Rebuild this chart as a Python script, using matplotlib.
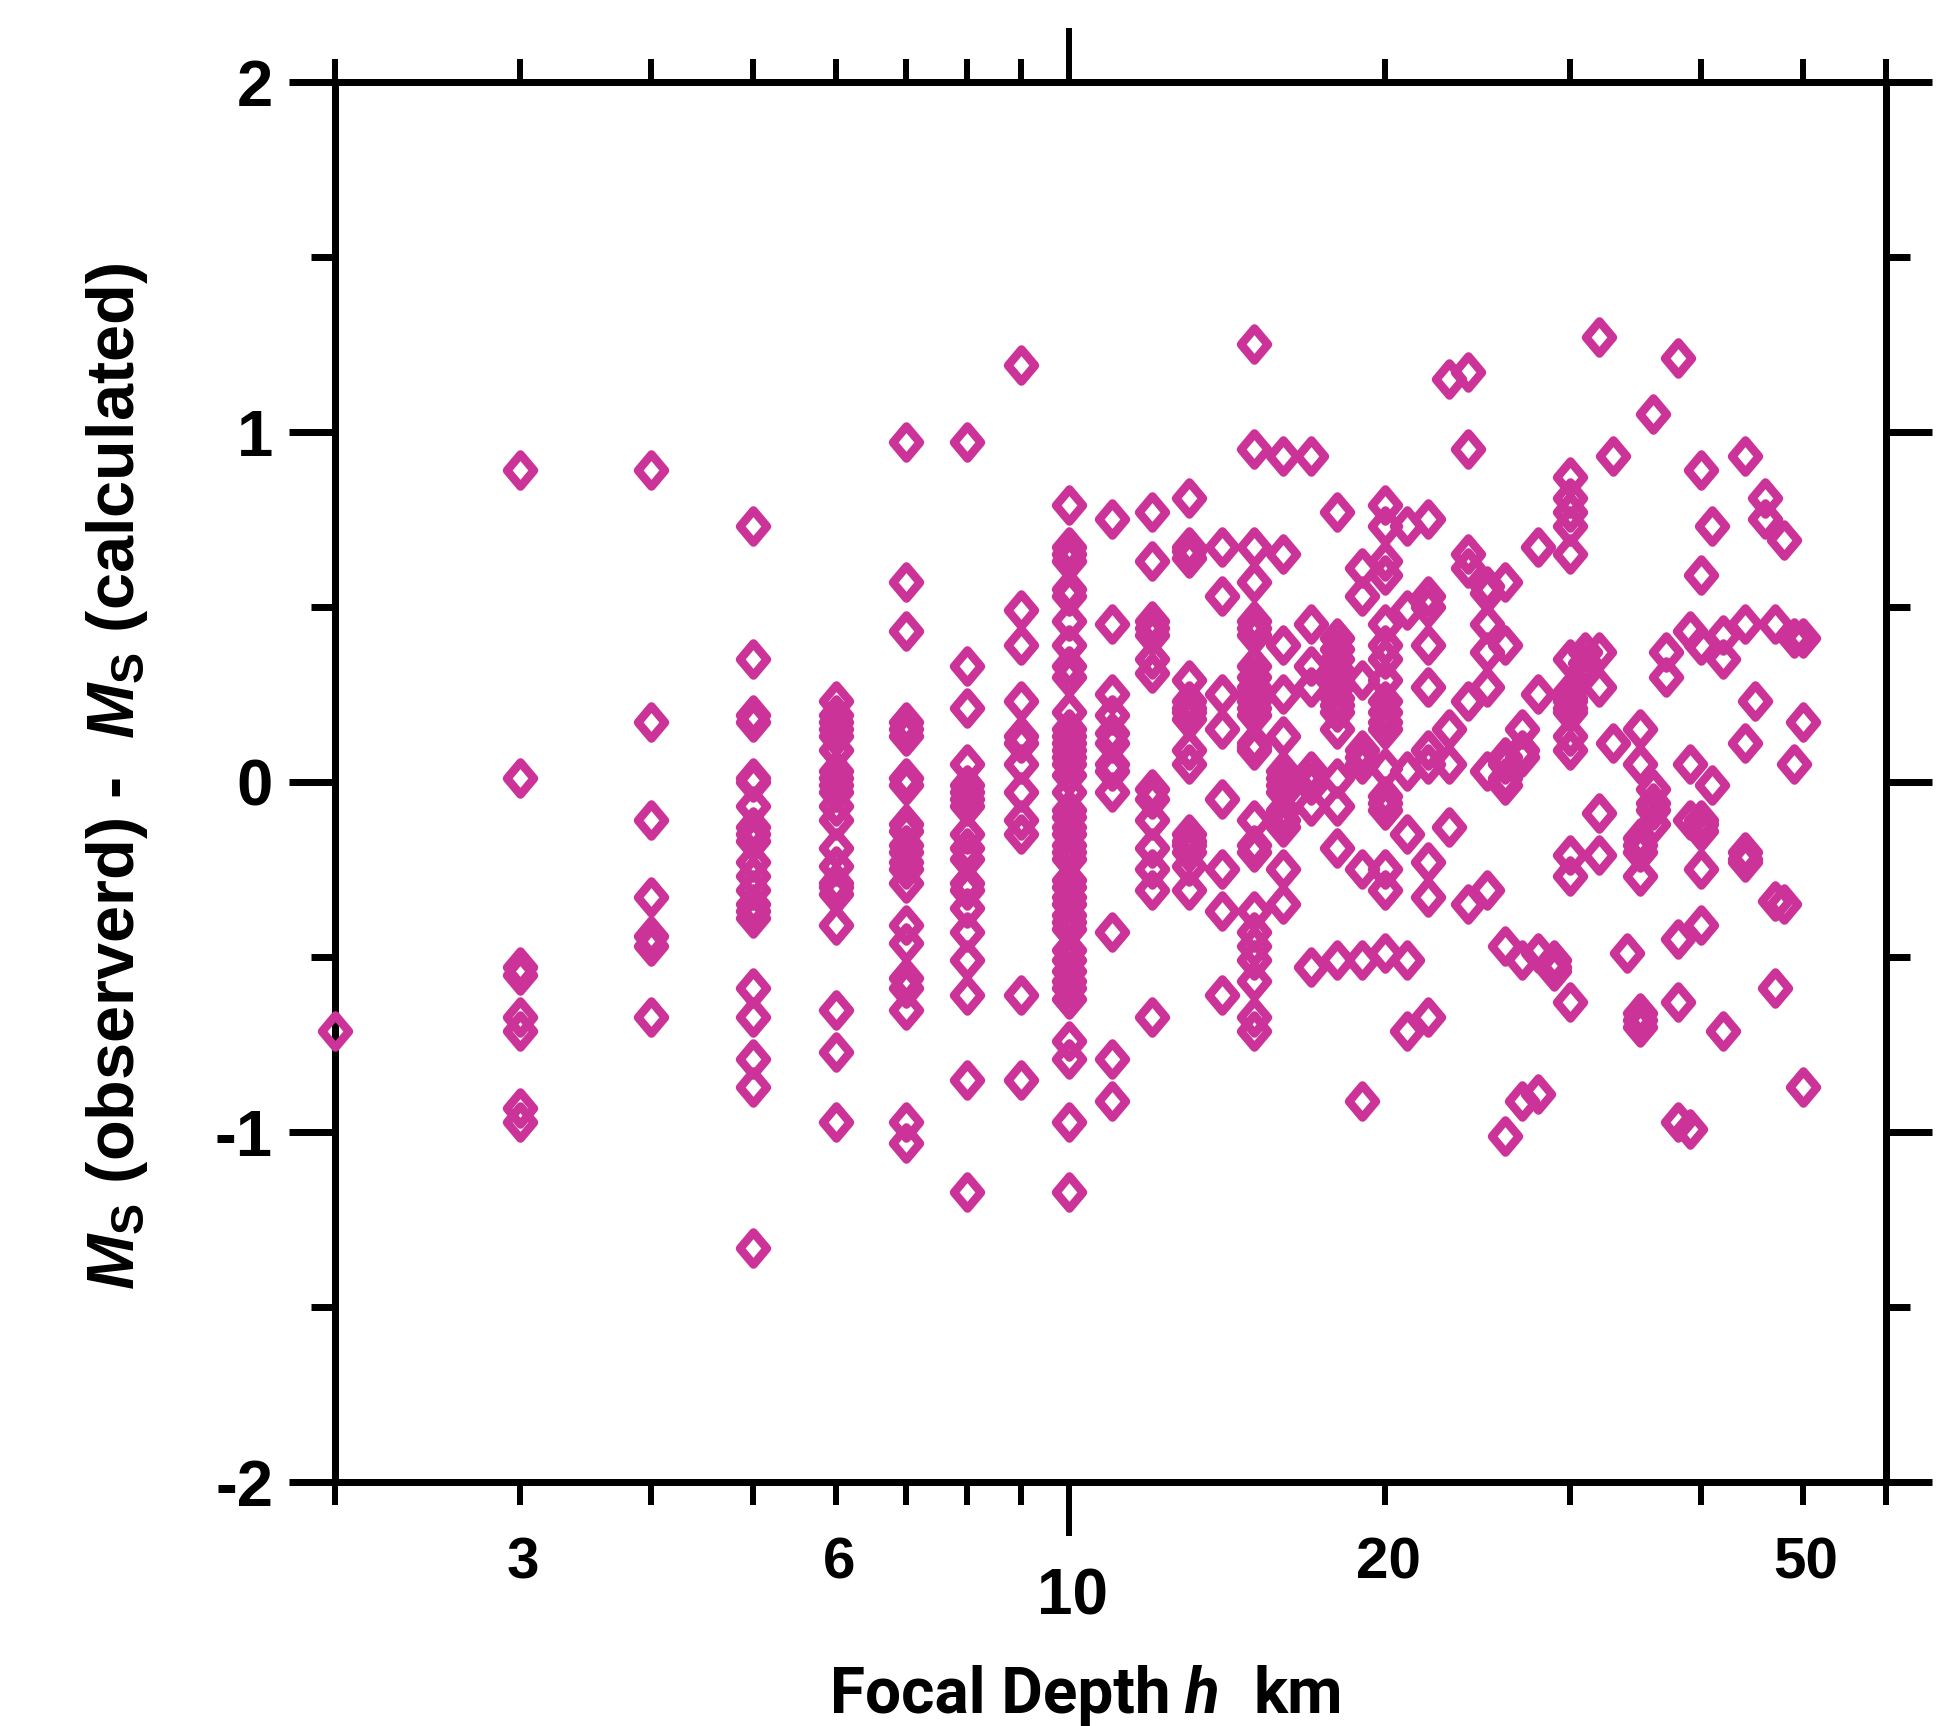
import matplotlib
matplotlib.use("Agg")
import matplotlib.pyplot as plt
from matplotlib.markers import MarkerStyle
from matplotlib.path import Path
from matplotlib.ticker import NullFormatter

# Ms residual, one list for each focal depth (km)
h02 = [-0.71]
h03 = [0.89, 0.01, -0.53, -0.55, -0.67, -0.71, -0.93, -0.97]
h04 = [0.89, 0.17, -0.11, -0.33, -0.44, -0.47, -0.67]
h05 = [0.73, 0.35, 0.19, 0.17, 0.01, 0.0, -0.07, -0.13, -0.15, -0.17, -0.23, -0.27, -0.31, -0.35, -0.37, -0.39,
       -0.59, -0.67, -0.79, -0.87, -1.33]
h06 = [0.23, 0.19, 0.17, 0.15, 0.13, 0.09, 0.03, 0.01, -0.01, -0.03, -0.07, -0.11, -0.19, -0.24, -0.29, -0.30,
       -0.32, -0.41, -0.65, -0.77, -0.97]
h07 = [0.97, 0.57, 0.43, 0.17, 0.15, 0.13, 0.01, -0.01, -0.12, -0.14, -0.18, -0.20, -0.23, -0.25, -0.29, -0.41,
       -0.46, -0.56, -0.59, -0.65, -0.97, -1.03]
h08 = [0.97, 0.33, 0.21, 0.05, -0.01, -0.03, -0.05, -0.07, -0.15, -0.19, -0.22, -0.29, -0.31, -0.36, -0.43,
       -0.51, -0.61, -0.85, -1.17]
h09 = [1.19, 0.49, 0.39, 0.23, 0.13, 0.11, 0.05, -0.03, -0.11, -0.15, -0.61, -0.85]
h10 = [0.79, 0.67, 0.65, 0.63, 0.55, 0.53, 0.46, 0.39, 0.33, 0.30, 0.20, 0.15, 0.13, 0.11, 0.09, 0.07, 0.05, 0.02,
       -0.03, -0.08, -0.10, -0.13, -0.15, -0.18, -0.20, -0.22, -0.28, -0.30, -0.33, -0.35, -0.38, -0.40, -0.42,
       -0.48, -0.51, -0.54, -0.57, -0.59, -0.62, -0.74, -0.79, -0.97, -1.17]
h11 = [0.75, 0.45, 0.25, 0.19, 0.14, 0.11, 0.05, 0.03, -0.03, -0.43, -0.79, -0.91]
h12 = [0.77, 0.63, 0.46, 0.44, 0.42, 0.35, 0.31, -0.02, -0.05, -0.11, -0.19, -0.25, -0.31, -0.67]
h13 = [0.81, 0.67, 0.66, 0.64, 0.29, 0.23, 0.21, 0.20, 0.18, 0.09, 0.05, -0.15, -0.17, -0.18, -0.20, -0.24, -0.31]
h14 = [0.67, 0.53, 0.25, 0.15, -0.05, -0.25, -0.37, -0.61]
h15 = [1.25, 0.95, 0.67, 0.57, 0.46, 0.44, 0.42, 0.33, 0.30, 0.27, 0.25, 0.23, 0.21, 0.19, 0.11, 0.10, 0.09,
       -0.11, -0.18, -0.20, -0.37, -0.43, -0.47, -0.51, -0.57, -0.67, -0.71]
h16 = [0.93, 0.65, 0.39, 0.25, 0.13, 0.03, 0.01, -0.01, -0.03, -0.08, -0.11, -0.13, -0.25, -0.35]
h17 = [0.93, 0.45, 0.33, 0.27, 0.03, 0.0, -0.01, -0.07, -0.53]
h18 = [0.77, 0.41, 0.38, 0.35, 0.32, 0.29, 0.27, 0.24, 0.22, 0.20, 0.15, 0.01, -0.07, -0.19, -0.51]
h19 = [0.61, 0.53, 0.29, 0.09, 0.07, 0.05, -0.25, -0.51, -0.91]
h20 = [0.79, 0.73, 0.63, 0.59, 0.45, 0.39, 0.35, 0.29, 0.23, 0.20, 0.17, 0.15, 0.04, -0.04, -0.06, -0.08, -0.25,
       -0.31, -0.49]
h21 = [0.73, 0.49, 0.03, -0.15, -0.51, -0.71]
h22 = [0.75, 0.53, 0.50, 0.39, 0.27, 0.09, 0.05, -0.23, -0.33, -0.67]
h23 = [1.15, 0.15, 0.05, -0.13]
h24 = [1.17, 0.95, 0.65, 0.61, 0.23, -0.35]
h25 = [0.56, 0.54, 0.45, 0.37, 0.27, 0.03, -0.31]
h26 = [0.57, 0.39, 0.07, 0.05, 0.01, -0.01, -0.47, -1.01]
h27 = [0.15, 0.09, 0.07, -0.51, -0.91]
h28 = [0.67, 0.25, -0.49, -0.89]
h29 = [-0.51, -0.53, -0.54]
h30 = [0.87, 0.81, 0.77, 0.73, 0.65, 0.35, 0.26, 0.24, 0.23, 0.21, 0.20, 0.13, 0.09, -0.21, -0.27, -0.63]
h31 = [0.37, 0.34, 0.32]
h32 = [1.27, 0.37, 0.27, -0.09, -0.21]
h33 = [0.93, 0.11]
h34 = [-0.49]
h35 = [0.15, 0.05, -0.16, -0.18, -0.20, -0.27, -0.66, -0.68, -0.70]
h36 = [1.05, -0.02, -0.06, -0.08, -0.12]
h37 = [0.37, 0.30]
h38 = [1.21, -0.45, -0.63, -0.97]
h39 = [0.43, 0.05, -0.11, -0.99]
h40 = [0.89, 0.59, 0.39, -0.11, -0.12, -0.14, -0.25, -0.41]
h41 = [0.73, -0.01]
h42 = [0.42, 0.35, -0.71]
h44 = [0.93, 0.45, 0.11, -0.20, -0.22, -0.23]
h45 = [0.23]
h46 = [0.81, 0.75]
h47 = [0.45, -0.34, -0.59]
h48 = [0.69, -0.35]
h49 = [0.41, 0.05]
h50 = [0.41, 0.17, -0.87]

depths = [2, 3, 4, 5, 6, 7, 8, 9, 10, 11, 12, 13, 14, 15, 16, 17, 18, 19, 20, 21, 22, 23, 24, 25, 26, 27, 28, 29,
          30, 31, 32, 33, 34, 35, 36, 37, 38, 39, 40, 41, 42, 44, 45, 46, 47, 48, 49, 50]
residuals = [h02, h03, h04, h05, h06, h07, h08, h09, h10, h11, h12, h13, h14, h15, h16, h17, h18, h19, h20, h21,
             h22, h23, h24, h25, h26, h27, h28, h29, h30, h31, h32, h33, h34, h35, h36, h37, h38, h39, h40, h41,
             h42, h44, h45, h46, h47, h48, h49, h50]

x_major = [10]
x_minor = [2, 3, 4, 5, 6, 7, 8, 9, 20, 30, 40, 50, 60]
x_labels = ["3", "6", "20", "50"]
x_label_ticks = [3, 6, 20, 50]
y_major = [-2, -1, 0, 1, 2]
y_minor = [-1.5, -0.5, 0.5, 1.5]
y_labels = ["-2", "-1", "0", "1", "2"]

W, H = 1948, 1726
DPI = 100
MAGENTA = "#CC3399"


def px(n):
    # pixels to points
    return n * 72 / DPI


plt.rcParams["font.family"] = ["Liberation Sans"]
plt.rcParams["font.weight"] = "bold"
plt.rcParams["mathtext.fontset"] = "custom"
plt.rcParams["mathtext.rm"] = "Liberation Sans:bold"
plt.rcParams["mathtext.it"] = "Liberation Sans:italic:bold"
plt.rcParams["mathtext.default"] = "it"

fig = plt.figure(figsize=(W / DPI, H / DPI), dpi=DPI)
ax = fig.add_axes([335 / W, 1 - 1482 / H, (1886 - 335) / W, (1482 - 82) / H])

diamond = MarkerStyle(Path([(0, 1), (0.84, 0), (0, -1), (-0.84, 0), (0, 1)], closed=True), joinstyle="miter")

for depth, vals in zip(depths, residuals):
    ax.plot([depth] * len(vals), vals, linestyle="none", marker=diamond, markersize=px(32),
            markerfacecolor="none", markeredgecolor=MAGENTA, markeredgewidth=px(8.6), clip_on=False, zorder=5)

ax.set_xscale("log")
ax.set_xlim(2, 60)
ax.set_ylim(-2, 2)

ax.set_xticks(x_major)
ax.set_xticks(x_minor, minor=True)
ax.xaxis.set_major_formatter(NullFormatter())
ax.xaxis.set_minor_formatter(NullFormatter())
ax.set_yticks(y_major)
ax.set_yticks(y_minor, minor=True)
ax.set_yticklabels(y_labels)

for spine in ax.spines.values():
    spine.set_linewidth(px(7))

ax.tick_params(axis="x", which="major", direction="out", length=px(54), width=px(6), top=True, bottom=True)
ax.tick_params(axis="x", which="minor", direction="out", length=px(23), width=px(6), top=True, bottom=True)
ax.tick_params(axis="y", which="major", direction="out", length=px(46), width=px(7), left=True, right=True,
               labelsize=47, pad=px(16))
ax.tick_params(axis="y", which="minor", direction="out", length=px(24), width=px(7), left=True, right=True)

# labels sit a little right of their ticks
for tick, text in zip(x_label_ticks, x_labels):
    ax.annotate(text, xy=(tick, 0), xycoords=ax.get_xaxis_transform(), xytext=(3, 1482 - 1563),
                textcoords="offset pixels", ha="center", va="center", fontsize=42)
ax.annotate("10", xy=(10, 0), xycoords=ax.get_xaxis_transform(), xytext=(4, 1482 - 1597),
            textcoords="offset pixels", ha="center", va="center", fontsize=46)

# axis titles, the x one in three pieces because of the italic h
fig.text(1000 / W, 1 - 1713 / H, "Focal Depth", ha="center", va="baseline", fontsize=46, family="Roboto")
fig.text(1201 / W, 1 - 1713 / H, "h", ha="center", va="baseline", fontsize=46, family="Roboto", style="italic")
fig.text(1298 / W, 1 - 1713 / H, "km", ha="center", va="baseline", fontsize=46, family="Roboto")
fig.text(134 / W, 1 - 777 / H, r"$M_{\mathrm{S}}$ (observerd) -  $M_{\mathrm{S}}$ (calculated)",
         rotation=90, ha="center", va="baseline", fontsize=48, rotation_mode="anchor")

fig.savefig("out.png", dpi=DPI)
